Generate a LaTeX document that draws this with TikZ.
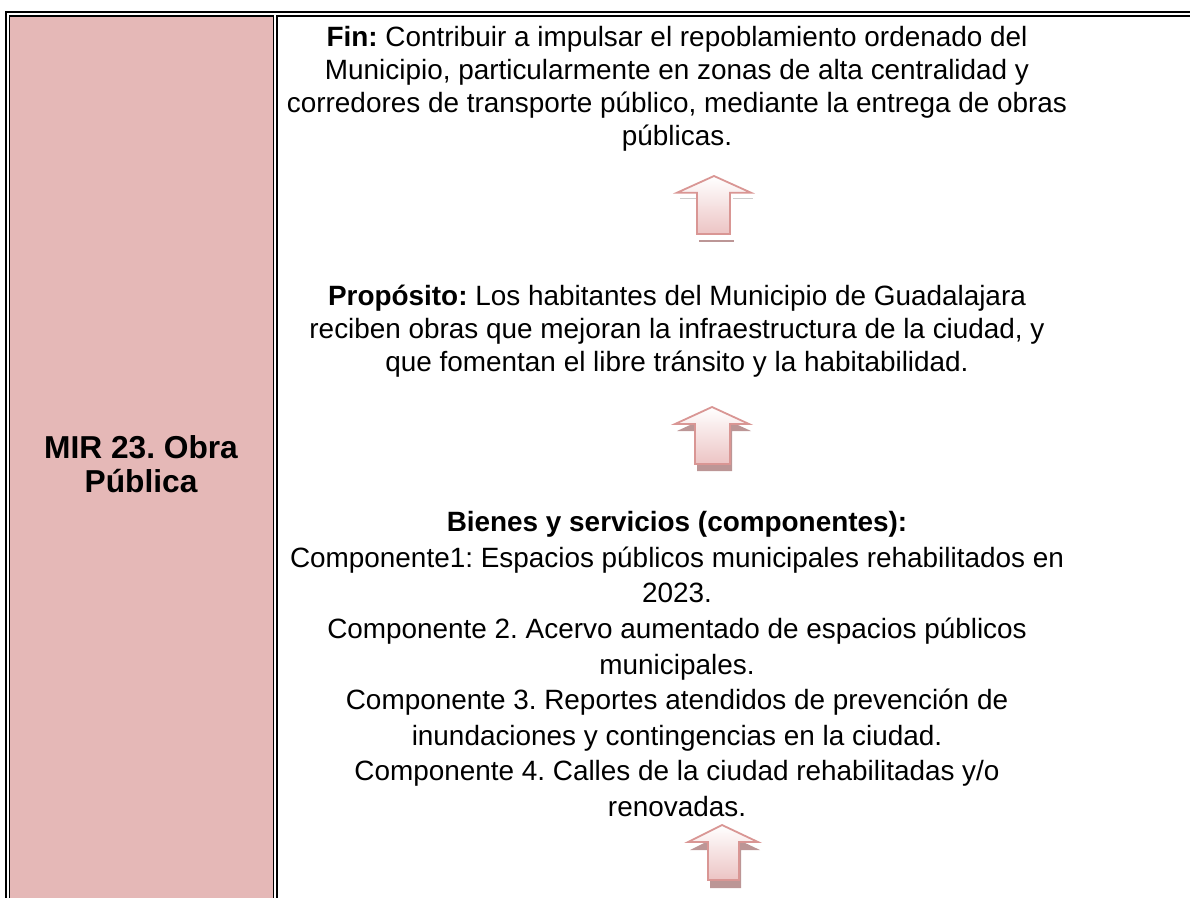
\documentclass[tikz,border=0pt]{standalone}
\usepackage{fontspec}
\setmainfont{Liberation Sans}
\frenchspacing
\definecolor{cellpink}{RGB}{229,184,183}
\definecolor{arrowline}{RGB}{217,150,148}
\definecolor{arrowfill}{RGB}{236,196,196}
\definecolor{arrowshadow}{RGB}{188,150,150}
\definecolor{faintgrey}{RGB}{205,205,205}
\tikzset{
  outerrule/.style={line width=2pt, black},
  innerrule/.style={line width=1.6pt, black},
  bodytext/.style={anchor=north, inner sep=0pt, align=center,
    font=\fontsize{27.9}{33}\selectfont},
  listtext/.style={anchor=north, inner sep=0pt, align=center,
    font=\fontsize{27.9}{35.6}\selectfont},
  labeltext/.style={anchor=north, inner sep=0pt, align=center,
    font=\fontsize{31.7}{34}\selectfont\bfseries},
  blockarrow/.style={draw=arrowline, line width=1.8pt, line join=miter,
    top color=white, bottom color=arrowfill},
  blockshadow/.style={fill=arrowshadow, draw=none},
}
\begin{document}
\begin{tikzpicture}[x=1pt,y=-1pt]
\useasboundingbox (0,0) rectangle (1190,897);
% table
\fill[cellpink] (10.3,16.7) rectangle (272.7,900);
\draw[outerrule] (6,900) -- (6,12) -- (1195,12);
\draw[innerrule] (9.6,900) -- (9.6,16) -- (273.4,16) -- (273.4,900);
\draw[innerrule] (1195,16) -- (277,16) -- (277,900);
% left label
\node[labeltext] (mir) at (141,434.9) {\strut MIR 23. Obra\\Pública};
% right column texts
\node[bodytext] (fin) at (677,23.2) {\strut\textbf{Fin:} Contribuir a impulsar el repoblamiento ordenado del\\
Municipio, particularmente en zonas de alta centralidad y\\
corredores de transporte público, mediante la entrega de obras\\
públicas.};
\node[bodytext] (prop) at (677,281.9) {\strut\textbf{Propósito:} Los habitantes del Municipio de Guadalajara\\
reciben obras que mejoran la infraestructura de la ciudad, y\\
que fomentan el libre tránsito y la habitabilidad.};
\node[listtext] (bien) at (677,506.5) {\strut\textbf{Bienes y servicios (componentes):}\\
Componente1: Espacios públicos municipales rehabilitados en\\
2023.\\
Componente 2. Acervo aumentado de espacios públicos\\
municipales.\\
Componente 3. Reportes atendidos de prevención de\\
inundaciones y contingencias en la ciudad.\\
Componente 4. Calles de la ciudad rehabilitadas y/o\\
renovadas.};
% arrow 1
\draw[faintgrey, line width=1pt] (680,198) -- (697,198) (733,198) -- (753,198);
\fill[arrowshadow] (699,239.5) rectangle (734,242);
\draw[blockarrow] (697,234) -- (697,192.7) -- (677,192.7) -- (714,176) -- (751,192.7) -- (730,192.7) -- (730,234) -- cycle;
% arrow 2
\fill[blockshadow, shift={(2,7)}] (695,464) -- (695,424) -- (675,424) -- (712,407) -- (749,424) -- (730,424) -- (730,464) -- cycle;
\draw[blockarrow] (695,464) -- (695,424) -- (675,424) -- (712,407) -- (749,424) -- (730,424) -- (730,464) -- cycle;
% arrow 3
\fill[blockshadow, shift={(2,8)}] (708,880) -- (708,842) -- (688,842) -- (722,825) -- (758,842) -- (739,842) -- (739,880) -- cycle;
\draw[blockarrow] (708,880) -- (708,842) -- (688,842) -- (722,825) -- (758,842) -- (739,842) -- (739,880) -- cycle;
\end{tikzpicture}
\end{document}
